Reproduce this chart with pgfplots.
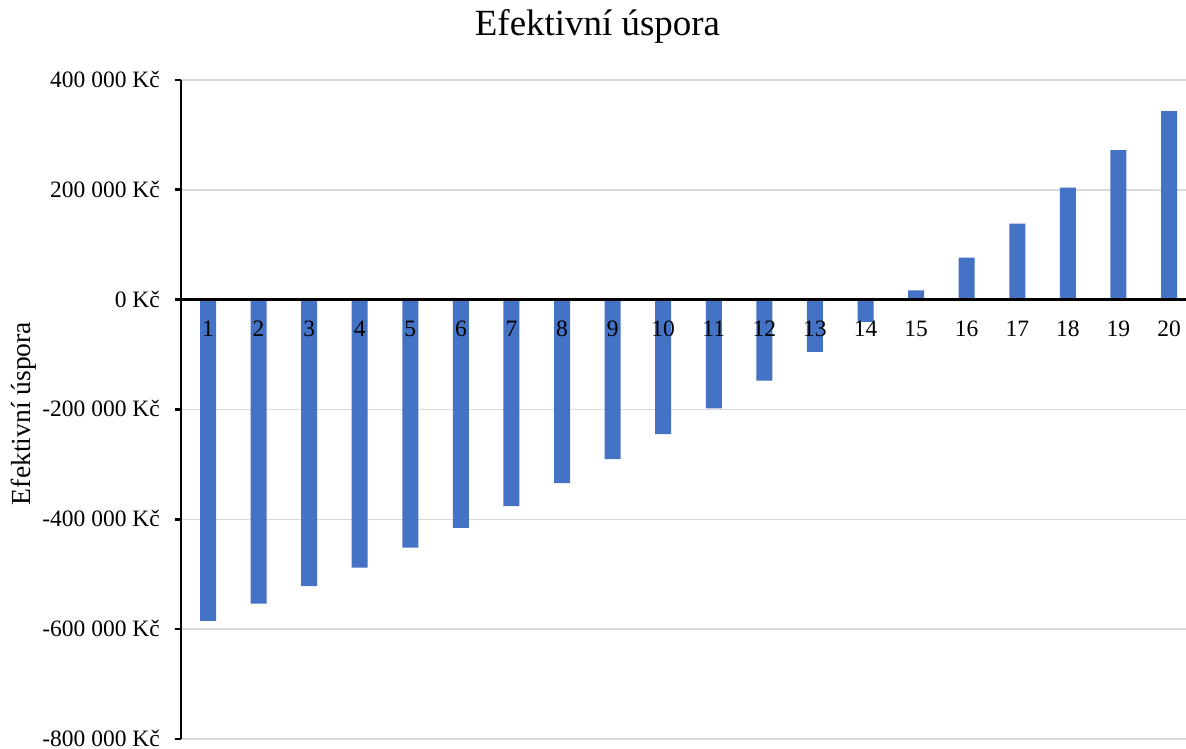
\documentclass[border=0pt]{standalone}
\usepackage{fontspec}
\setmainfont{Liberation Serif}
\usepackage{pgfplots}
\pgfplotsset{compat=1.18}
\definecolor{barblue}{HTML}{4472C4}
\definecolor{gridgray}{HTML}{D9D9D9}

\begin{document}
\begin{tikzpicture}
\begin{axis}[
    scale only axis,
    clip=false,
    width=753.75pt, height=494.25pt,
    xmin=0.466, xmax=20.336,
    ymin=-800000, ymax=400000,
    axis x line=middle,
    axis y line=left,
    axis line style={-, black},
    x axis line style={line width=2.2pt},
    y axis line style={line width=2.2pt},
    xtick=\empty,
    scaled y ticks=false,
    ytick={-800000,-600000,-400000,-200000,0,200000,400000},
    yticklabels={-800 000 Kč,-600 000 Kč,-400 000 Kč,-200 000 Kč,0 Kč,200 000 Kč,400 000 Kč},
    ytick style={black, line width=2pt},
    tick align=outside,
    major tick length=4.5pt,
    ymajorgrids,
    major grid style={gridgray, line width=1.1pt},
    /pgf/number format/assume math mode=true,
    tick label style={font=\fontsize{17.6pt}{21pt}\selectfont},
    yticklabel style={anchor=base east, inner sep=0pt, yshift=-5.6pt, xshift=-11.25pt},
    title={Efektivní úspora},
    title style={font=\fontsize{27.7pt}{33pt}\selectfont, at={(axis description cs:0.4144,1.0547)}, anchor=base},
    ylabel={Efektivní úspora},
    ylabel style={font=\fontsize{20.7pt}{25pt}\selectfont, at={(axis description cs:-0.1502,0.494)}, anchor=base},
]
\addplot[ybar, bar width=12pt, bar shift=0pt, fill=barblue, draw=none] coordinates {
    (1,-585000) (2,-553500) (3,-521500) (4,-488000) (5,-451500)
    (6,-415500) (7,-376000) (8,-334000) (9,-290500) (10,-245000)
    (11,-198000) (12,-147300) (13,-95000) (14,-40500) (15,16700)
    (16,76700) (17,138500) (18,204000) (19,272400) (20,343300)
};
% heavy axis lines as in the original
\draw[line width=2.2pt, black] (axis cs:0.466,0) -- (axis cs:20.336,0);
\draw[line width=2.2pt, black] (axis cs:0.466,-800000) -- (axis cs:0.466,400000);
% category labels sit on the zero line, above the bars
\addplot[draw=none, mark=none, point meta=x,
    nodes near coords={\pgfmathprintnumber{\pgfplotspointmeta}},
    every node near coord/.style={anchor=base, inner sep=0pt, yshift=-27.75pt,
        font=\fontsize{17.6pt}{21pt}\selectfont, text=black}]
    coordinates {
    (1,0) (2,0) (3,0) (4,0) (5,0) (6,0) (7,0) (8,0) (9,0) (10,0)
    (11,0) (12,0) (13,0) (14,0) (15,0) (16,0) (17,0) (18,0) (19,0) (20,0)
};
\end{axis}
\pgfresetboundingbox
\path[use as bounding box] (-135.75pt,-7.5pt) rectangle (753.75pt,554.25pt);
\end{tikzpicture}
\end{document}
